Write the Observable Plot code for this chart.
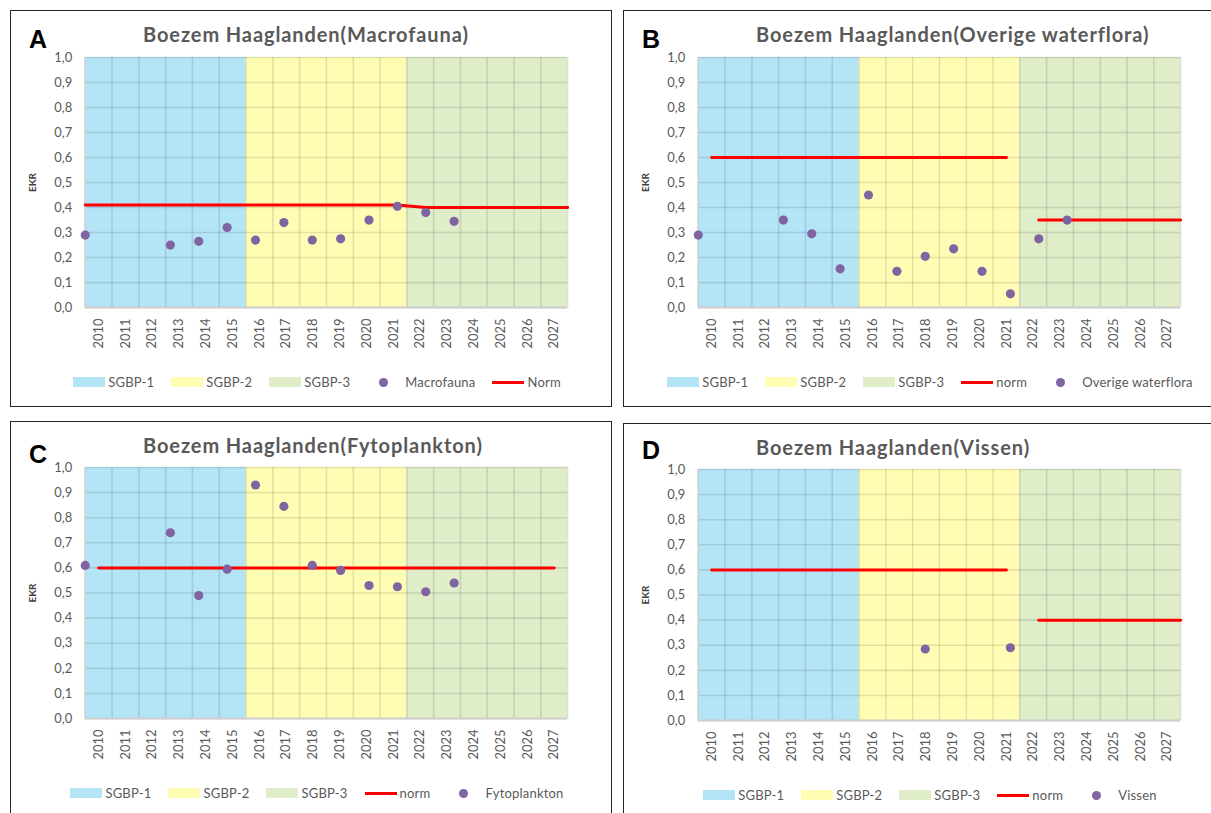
<!DOCTYPE html>
<html>
<head>
<meta charset="utf-8">
<script src="https://cdn.jsdelivr.net/npm/d3@7"></script>
<script src="https://cdn.jsdelivr.net/npm/@observablehq/plot@0.6"></script>
<style>
  html, body { margin: 0; padding: 0; background: #fff; width: 1211px; height: 813px; overflow: hidden; }
  .panel { position: absolute; width: 602px; box-sizing: border-box; border: 1.5px solid #262626; background: #fff; overflow: hidden; }
  .letter { position: absolute; font-family: "Liberation Sans", Arial, sans-serif; font-weight: bold; font-size: 25px; line-height: 25px; color: #000; }
  .title { position: absolute; font-family: Lato, "Open Sans", sans-serif; font-weight: bold; font-size: 20px; line-height: 20px; letter-spacing: 0.9px; color: #595959; white-space: nowrap; }
  .chart { position: absolute; left: 0; top: 30px; }
  .legend { position: absolute; left: 0; width: 612px; height: 16px; display: flex; justify-content: center; align-items: center;
            font-family: Lato, sans-serif; font-size: 13px; letter-spacing: 0.2px; color: #595959; white-space: nowrap; }
  .item { display: flex; align-items: center; margin: 0 8.5px; }
  .sw { width: 32px; height: 10px; margin-right: 3px; display: flex; align-items: center; justify-content: center; }
  .sw .ln { width: 32px; height: 3px; background: #ff0000; }
  .sw .dt { width: 9px; height: 9px; border-radius: 50%; background: #8064a2; }
</style>
</head>
<body>
<script>
// ---------- data ----------
const years = [2010, 2011, 2012, 2013, 2014, 2015, 2016, 2017, 2018, 2019, 2020, 2021, 2022, 2023, 2024, 2025, 2026, 2027];
const yTicks = [0, 0.1, 0.2, 0.3, 0.4, 0.5, 0.6, 0.7, 0.8, 0.9, 1.0];

const periodNames = ["SGBP-1", "SGBP-2", "SGBP-3"];
const periodFirstYear = [2010, 2016, 2022];
const periodLastYear = [2015, 2021, 2027];

const sampleYears = [2010, 2013, 2014, 2015, 2016, 2017, 2018, 2019, 2020, 2021, 2022, 2023];

const macrofaunaEKR = [0.29, 0.25, 0.265, 0.32, 0.27, 0.34, 0.27, 0.275, 0.35, 0.405, 0.38, 0.345];
const macrofaunaNormYears = [2010, 2021, 2022, 2027];
const macrofaunaNorm = [0.41, 0.41, 0.40, 0.40];

const waterfloraEKR = [0.29, 0.35, 0.295, 0.155, 0.45, 0.145, 0.205, 0.235, 0.145, 0.055, 0.275, 0.35];
const waterfloraNormFrom = [2010, 2022];
const waterfloraNormTo = [2021, 2027];
const waterfloraNorm = [0.6, 0.35];

const fytoplanktonEKR = [0.61, 0.74, 0.49, 0.595, 0.93, 0.845, 0.61, 0.59, 0.53, 0.525, 0.505, 0.54];
const fytoplanktonNormFrom = [2010];
const fytoplanktonNormTo = [2027];
const fytoplanktonNorm = [0.6];

const vissenYears = [2018, 2021];
const vissenEKR = [0.285, 0.29];
const vissenNormFrom = [2010, 2022];
const vissenNormTo = [2021, 2027];
const vissenNorm = [0.6, 0.4];

// ---------- style ----------
const periodColors = ["#b4e5f7", "#fffdb4", "#dfedc9"];
const dotColor = "#8064a2";
const normColor = "#ff0000";

// category axis: bands (centre) vs secondary axis "on tick marks" (edge)
const first = years[0], n = years.length;
const center = yr => yr + 0.5;
const edge = yr => first + (yr - first) * n / (n - 1);

function buildChart(cfg) {
  const bands = periodNames.map((name, i) => ({ x1: periodFirstYear[i], x2: periodLastYear[i] + 1, fill: periodColors[i] }));
  const pts = cfg.years.map((yr, i) => ({ x: edge(yr), y: cfg.values[i] }));
  const norm = [];
  cfg.normSegments.forEach((seg, s) => {
    seg.years.forEach((yr, j) => norm.push({ x: seg.place(yr), y: seg.values[j], seg: s }));
  });
  const boundaries = years.concat([years[n - 1] + 1]);
  return Plot.plot({
    width: 602, height: 310,
    marginTop: cfg.top, marginLeft: 74, marginRight: 44, marginBottom: 43,
    style: { fontFamily: "Lato, sans-serif", fontSize: "13px", color: "#595959", background: "transparent" },
    x: { type: "linear", domain: [first, years[n - 1] + 1] },
    y: { domain: [0, 1] },
    color: { type: "identity" },
    marks: [
      Plot.rect(bands, { x1: "x1", x2: "x2", y1: () => 0, y2: () => 1, fill: "fill" }),
      Plot.gridX(boundaries, { stroke: "#000", strokeOpacity: 0.11, strokeWidth: 1.6 }),
      Plot.gridY(yTicks, { stroke: "#000", strokeOpacity: 0.11, strokeWidth: 1.6 }),
      Plot.ruleY([0], { stroke: "#d0d0d0", strokeWidth: 2 }),
      Plot.ruleX([first], { stroke: "#d0d0d0", strokeWidth: 1.5 }),
      Plot.line(norm, { x: "x", y: "y", z: "seg", stroke: normColor, strokeWidth: 3 }),
      Plot.dot(pts, { x: "x", y: "y", r: 4.6, fill: dotColor }),
      Plot.axisX(years.map(center), { tickFormat: d => String(Math.round(d - 0.5)), tickRotate: -90, tickSize: 0, tickPadding: 11, label: null }),
      Plot.axisY(yTicks, { tickFormat: d => d.toFixed(1).replace(".", ","), tickSize: 0, tickPadding: 13, label: null }),
      Plot.text(["EKR"], { frameAnchor: "left", rotate: -90, dx: -53, textAnchor: "middle", fontWeight: "bold", fontSize: 10, fill: "#404040", letterSpacing: 1 })
    ]
  });
}

function segs(from, to, values, places) {
  return from.map((f, i) => ({ years: [f, to[i]], values: [values[i], values[i]], place: places[i] }));
}

const panels = [
  { letter: "A", title: "Boezem Haaglanden(Macrofauna)", left: 10, top: 10, h: 397, plotTop: 16, letterTop: 16,
    years: sampleYears, values: macrofaunaEKR,
    normSegments: [{ years: macrofaunaNormYears, values: macrofaunaNorm, place: edge }],
    legend: ["rect", "rect", "rect", "dot:Macrofauna", "line:Norm"] },
  { letter: "B", title: "Boezem Haaglanden(Overige waterflora)", left: 623, top: 10, h: 397, plotTop: 16, letterTop: 16,
    years: sampleYears, values: waterfloraEKR,
    normSegments: segs(waterfloraNormFrom, waterfloraNormTo, waterfloraNorm, [center, edge]),
    legend: ["rect", "rect", "rect", "line:norm", "dot:Overige waterflora"] },
  { letter: "C", title: "Boezem Haaglanden(Fytoplankton)", left: 10, top: 421, h: 400, plotTop: 15, letterTop: 20,
    years: sampleYears, values: fytoplanktonEKR,
    normSegments: segs(fytoplanktonNormFrom, fytoplanktonNormTo, fytoplanktonNorm, [center]),
    legend: ["rect", "rect", "rect", "line:norm", "dot:Fytoplankton"] },
  { letter: "D", title: "Boezem Haaglanden(Vissen)", left: 623, top: 423, h: 400, plotTop: 15, letterTop: 14,
    years: vissenYears, values: vissenEKR,
    normSegments: segs(vissenNormFrom, vissenNormTo, vissenNorm, [center, edge]),
    legend: ["rect", "rect", "rect", "line:norm", "dot:Vissen"] }
];

panels.forEach(p => {
  const div = document.createElement("div");
  div.className = "panel";
  div.style.left = p.left + "px";
  div.style.top = p.top + "px";
  div.style.height = p.h + "px";

  const letter = document.createElement("div");
  letter.className = "letter";
  letter.textContent = p.letter;
  letter.style.left = "18px";
  letter.style.top = p.letterTop + "px";
  div.appendChild(letter);

  const title = document.createElement("div");
  title.className = "title";
  title.textContent = p.title;
  title.style.left = "132px";
  title.style.top = "13px";
  div.appendChild(title);

  const chart = document.createElement("div");
  chart.className = "chart";
  chart.appendChild(buildChart({ top: p.plotTop, years: p.years, values: p.values, normSegments: p.normSegments }));
  div.appendChild(chart);

  const legend = document.createElement("div");
  legend.className = "legend";
  legend.style.top = "363px";
  let r = 0;
  p.legend.forEach(entry => {
    const item = document.createElement("div");
    item.className = "item";
    const sw = document.createElement("div");
    sw.className = "sw";
    const label = document.createElement("span");
    if (entry === "rect") {
      sw.style.background = periodColors[r];
      label.textContent = periodNames[r];
      r++;
    } else if (entry.startsWith("dot:")) {
      const d = document.createElement("div"); d.className = "dt"; sw.appendChild(d);
      label.textContent = entry.slice(4);
      label.style.marginLeft = "3px";
    } else {
      const l = document.createElement("div"); l.className = "ln"; sw.appendChild(l);
      label.textContent = entry.slice(5);
    }
    item.appendChild(sw);
    item.appendChild(label);
    legend.appendChild(item);
  });
  div.appendChild(legend);
  document.body.appendChild(div);
});
</script>
</body>
</html>
